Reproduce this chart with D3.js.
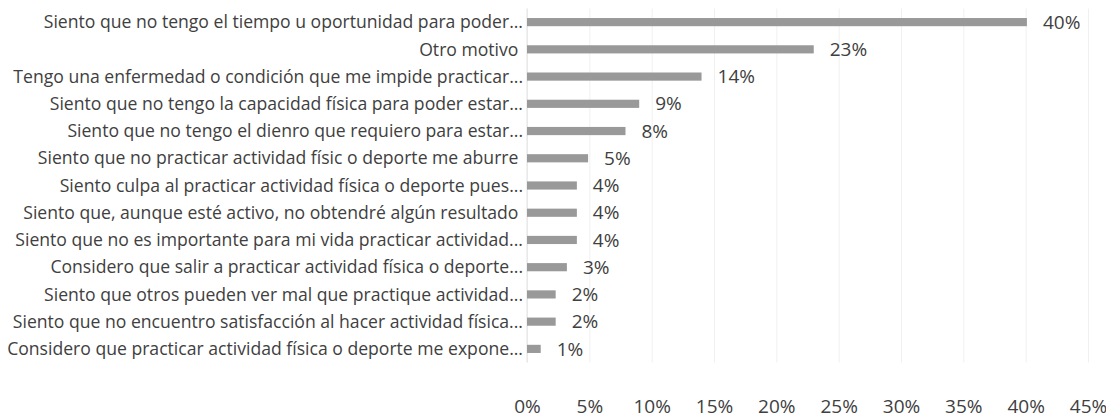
<!DOCTYPE html>
<html>
<head>
<meta charset="utf-8">
<script src="https://cdn.jsdelivr.net/npm/d3@7"></script>
<style>
  body { margin: 0; background: #fff; }
  #chart text { font-family: "Open Sans", sans-serif; fill: #404040; }
</style>
</head>
<body>
<div id="chart"></div>
<script>
var categories = [
  "Siento que no tengo el tiempo u oportunidad para poder...",
  "Otro motivo ",
  "Tengo una enfermedad o condición que me impide practicar...",
  "Siento que no tengo la capacidad física para poder estar...",
  "Siento que no tengo el dienro que requiero para estar...",
  "Siento que no practicar actividad físic o deporte me aburre ",
  "Siento culpa al practicar actividad física o deporte pues...",
  "Siento que, aunque esté activo, no obtendré algún resultado ",
  "Siento que no es importante para mi vida practicar actividad...",
  "Considero que salir a practicar actividad física o deporte...",
  "Siento que otros pueden ver mal que practique actividad...",
  "Siento que no encuentro satisfacción al hacer actividad física...",
  "Considero que practicar actividad física o deporte me expone..."
];
var values = [0.401, 0.23, 0.14, 0.09, 0.079, 0.049, 0.04, 0.04, 0.04, 0.032, 0.023, 0.023, 0.011];
var valueLabels = ["40%", "23%", "14%", "9%", "8%", "5%", "4%", "4%", "4%", "3%", "2%", "2%", "1%"];
var ticks = [0, 0.05, 0.10, 0.15, 0.20, 0.25, 0.30, 0.35, 0.40, 0.45];

var width = 1106, height = 417;
var plotTop = 8.5, plotBottom = 362.5;

var svg = d3.select("#chart").append("svg")
  .attr("width", width)
  .attr("height", height);

var x = d3.scaleLinear()
  .domain([0, 0.45])
  .range([527, 1088]);

var y = d3.scaleBand()
  .domain(categories)
  .range([plotTop, plotBottom])
  .paddingInner(0.7)
  .paddingOuter(0.35);

// faint gridlines
svg.append("g")
  .attr("transform", "translate(0," + plotTop + ")")
  .call(d3.axisBottom(x).tickValues(ticks).tickSize(plotBottom - plotTop).tickFormat(""))
  .call(function(g) {
    g.select(".domain").remove();
    g.selectAll("line").attr("stroke", "#f0f0f0");
  });

// category axis line
svg.append("line")
  .attr("x1", x(0)).attr("x2", x(0))
  .attr("y1", plotTop).attr("y2", plotBottom)
  .attr("stroke", "#e2e2e2");

// bars
svg.selectAll(".bar")
  .data(values)
  .enter().append("rect")
  .attr("class", "bar")
  .attr("x", x(0))
  .attr("y", function(d, i) { return y(categories[i]); })
  .attr("width", function(d) { return x(d) - x(0); })
  .attr("height", y.bandwidth())
  .attr("fill", "#999999");

// value labels
svg.selectAll(".val")
  .data(values)
  .enter().append("text")
  .attr("class", "val")
  .attr("x", function(d) { return x(d) + 16; })
  .attr("y", function(d, i) { return y(categories[i]) + y.bandwidth() / 2; })
  .attr("dy", "0.35em")
  .style("font-size", "19px")
  .text(function(d, i) { return valueLabels[i]; });

// category labels
svg.selectAll(".cat")
  .data(categories)
  .enter().append("text")
  .attr("class", "cat")
  .attr("x", 523)
  .attr("y", function(d) { return y(d) + y.bandwidth() / 2; })
  .attr("dy", "0.35em")
  .attr("text-anchor", "end")
  .style("font-size", "17.6px")
  .style("white-space", "pre")
  .text(function(d) { return d; });

// value axis
svg.append("g")
  .attr("transform", "translate(0,399)")
  .call(d3.axisBottom(x).tickValues(ticks).tickSize(0).tickPadding(0).tickFormat(d3.format(".0%")))
  .call(function(g) {
    g.select(".domain").remove();
    g.selectAll("text").style("font-size", "19px").attr("fill", "#404040");
  });
</script>
</body>
</html>
